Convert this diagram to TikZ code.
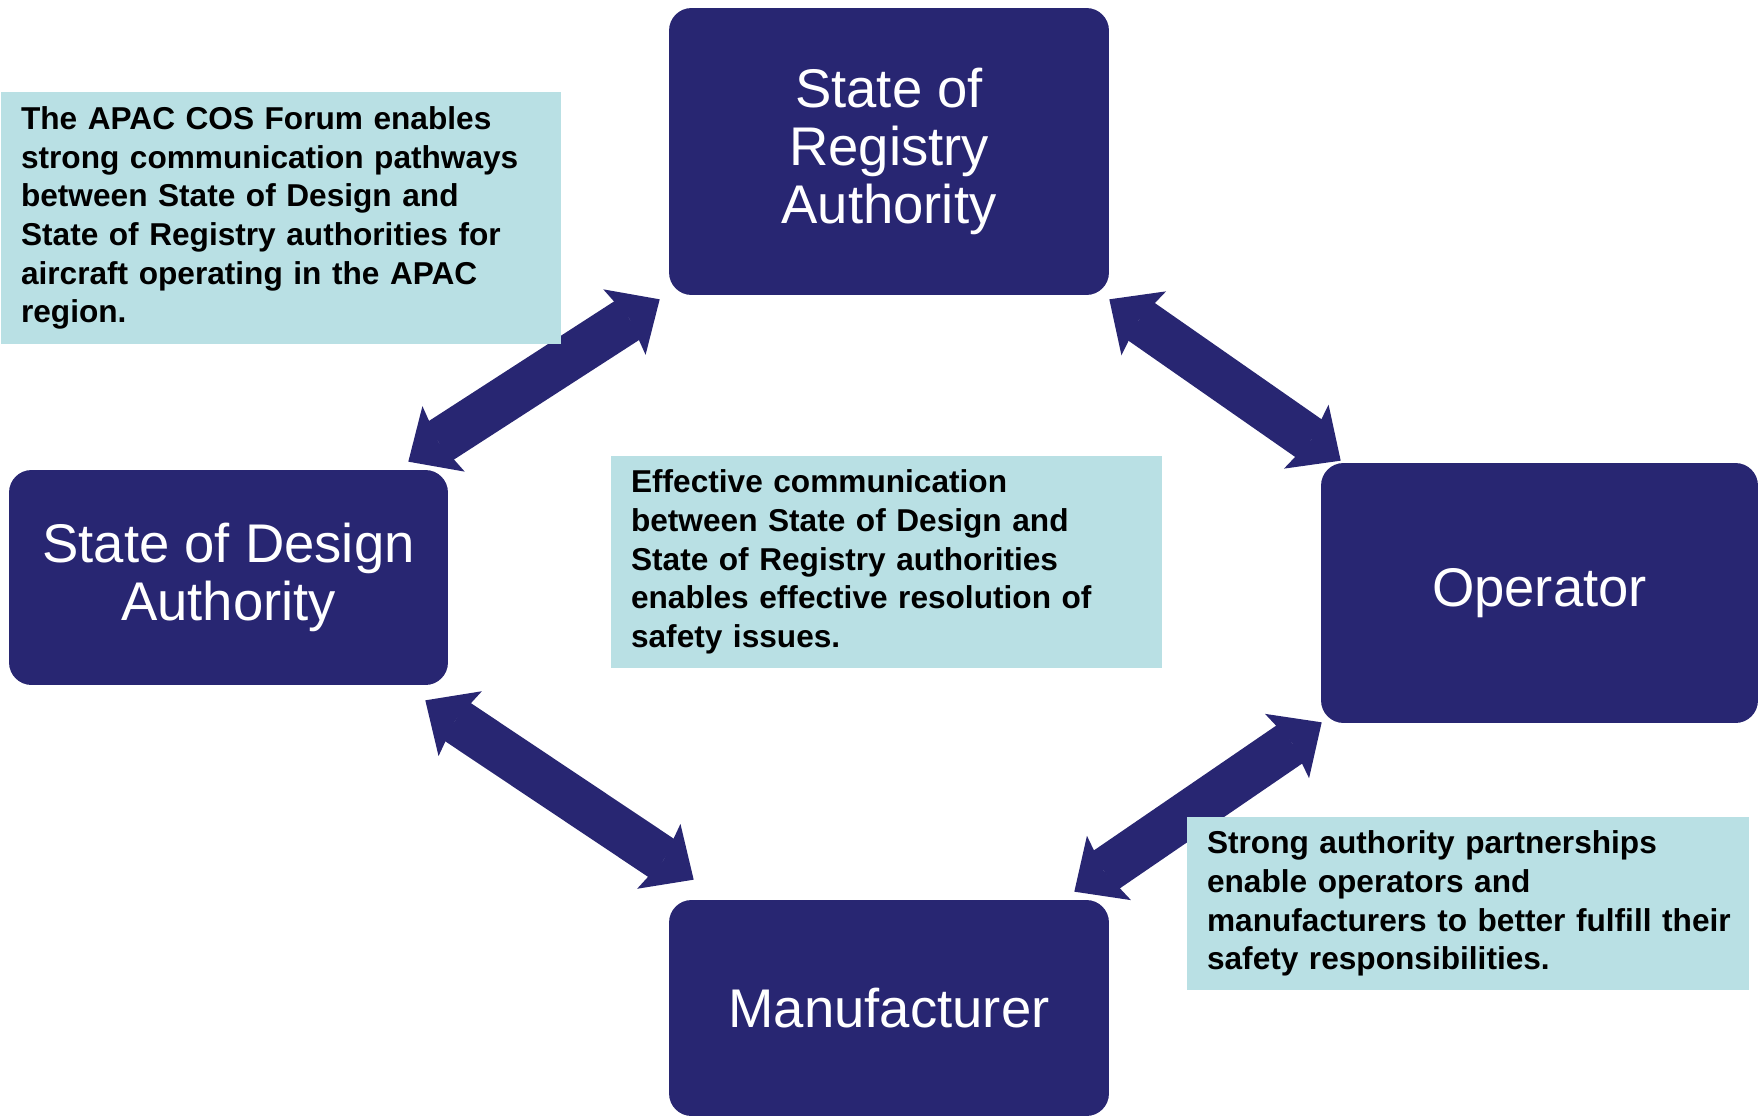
\documentclass[tikz,border=0pt]{standalone}
\usepackage{fontspec}
\setmainfont{Liberation Sans}
\usetikzlibrary{arrows.meta}

\definecolor{navy}{RGB}{40,38,114}
\definecolor{notecyan}{RGB}{185,224,228}

\begin{document}
\begin{tikzpicture}[x=0.02cm, y=-0.02cm,
  agency/.style={fill=navy, rounded corners=0.45cm, text=white, align=center,
    inner sep=0pt, font=\fontsize{31}{33}\selectfont},
  notebox/.style={fill=notecyan, inner xsep=0.4cm, inner ysep=0pt, align=left,
    font=\bfseries\fontsize{18}{22}\selectfont},
  blocktip/.tip={Stealth[length=0.84cm, width=1.56cm, inset=0.12cm, line width=0pt]},
  linkarrow/.style={line width=0.92cm, navy, blocktip-blocktip}]

\useasboundingbox (0,0) rectangle (1764,1118);

% Authorities and industry
\node[agency, minimum width=8.8cm, minimum height=5.74cm] (sor) at (889,151.5) {State of\\Registry\\Authority};
\node[agency, minimum width=8.78cm, minimum height=4.3cm] (sod) at (228.5,577.5) {State of Design\\Authority};
\node[agency, minimum width=8.74cm, minimum height=5.2cm] (op) at (1539.5,593) {Operator};
\node[agency, minimum width=8.8cm, minimum height=4.32cm] (man) at (889,1008) {Manufacturer};

% Two-way links
\draw[linkarrow] ([shift={(-40,-8)}]sod.north east) -- ([shift={(-9,4)}]sor.south west);
\draw[linkarrow] ([shift={(0,4)}]sor.south east) -- ([shift={(20,-2)}]op.north west);
\draw[linkarrow] ([shift={(-23,15)}]sod.south east) -- ([shift={(25,-20)}]man.north west);
\draw[linkarrow] ([shift={(1,-1)}]op.south west) -- ([shift={(-35,-8)}]man.north east);

% Notes
\node[notebox, text width=10.4cm, minimum height=5.04cm] (forum) at (281,218)
  {The APAC COS Forum enables\\strong communication pathways\\between State of Design and\\State of Registry authorities for\\aircraft operating in the APAC\\region.};
\node[notebox, text width=10.22cm, minimum height=4.24cm] (comms) at (886.5,562)
  {Effective communication\\between State of Design and\\State of Registry authorities\\enables effective resolution of\\safety issues.};
\node[notebox, text width=10.44cm, minimum height=3.46cm] (partners) at (1468,903.5)
  {Strong authority partnerships\\enable operators and\\\mbox{manufacturers to better fulfill their}\\safety responsibilities.};

\end{tikzpicture}
\end{document}
